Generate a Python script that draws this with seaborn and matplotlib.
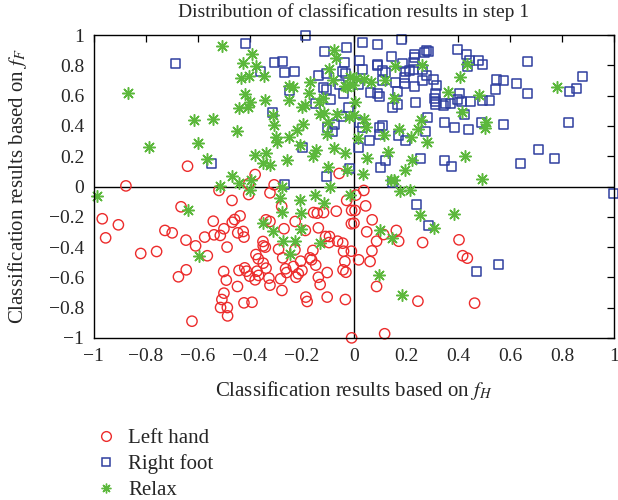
import numpy as np
import pandas as pd
import matplotlib
matplotlib.use("Agg")
import matplotlib.pyplot as plt
from matplotlib.lines import Line2D
import seaborn as sns

# Points (x = f_H, y = f_F)
left_x = [-0.64, -0.38, -0.057, -0.405, -0.307, -0.877,
          -0.519, -0.405, -0.323, -0.469, -0.278, -0.665, -0.968, -0.906, -0.955, -0.541,
          -0.468, -0.459, -0.438, -0.338, -0.323, -0.226, -0.155, -0.141, -0.117, -0.068,
          -0.028, -0.009, -0.01, -0.137, -0.187, -0.269, -0.727, -0.699, -0.646, -0.609,
          -0.574, -0.538, -0.514, -0.5, -0.447, -0.426, -0.423, -0.488, -0.35, -0.349,
          -0.341, -0.29, -0.274, -0.377, -0.368, -0.349, -0.338, -0.42, -0.442, -0.413,
          -0.401, -0.38, -0.373, -0.367, -0.327, -0.323, -0.282, -0.277, -0.263, -0.259,
          -0.233, -0.223, -0.214, -0.205, -0.2, -0.227, -0.169, -0.163, -0.158, -0.147,
          -0.137, -0.13, -0.103, -0.103, -0.185, -0.18, -0.109, -0.094, -0.096, -0.063,
          -0.043, -0.04, -0.01, -0.035, -0.042, -0.031, -0.033, -0.009, -0.501, -0.491,
          -0.448, -0.5, -0.508, -0.513, -0.487, -0.486, -0.423, -0.392, -0.623, -0.675,
          -0.645, -0.82, -0.759, -0.564,
          0.038, 0.007, 0.045, 0.004, 0.07, 0.0, 0.049, 0.114, 0.163, 0.172, 0.087, 0.264,
          0.404, 0.418, 0.436, 0.069, 0.018, 0.062, 0.087, 0.246, 0.464, 0.118]
left_y = [0.134, 0.079, 0.086, 0.018, 0.011, 0.004,
          -0.026, -0.053, -0.042, -0.092, -0.132, -0.134, -0.213, -0.253, -0.339, -0.229,
          -0.236, -0.218, -0.194, -0.22, -0.231, -0.231, -0.172, -0.176, -0.172, -0.163,
          -0.092, -0.158, -0.246, -0.273, -0.29, -0.279, -0.29, -0.306, -0.354, -0.392,
          -0.334, -0.319, -0.323, -0.279, -0.306, -0.297, -0.334, -0.4, -0.363, -0.392,
          -0.4, -0.414, -0.471, -0.449, -0.477, -0.506, -0.539, -0.537, -0.554, -0.559,
          -0.592, -0.616, -0.559, -0.587, -0.605, -0.651, -0.609, -0.686, -0.543, -0.568,
          -0.528, -0.599, -0.576, -0.493, -0.554, -0.418, -0.471, -0.484, -0.422, -0.519,
          -0.599, -0.647, -0.568, -0.73, -0.73, -0.759, -0.33, -0.33, -0.37, -0.361,
          -0.374, -0.427, -0.427, -0.495, -0.55, -0.566, -0.746, -0.999, -0.561, -0.618,
          -0.66, -0.704, -0.746, -0.799, -0.799, -0.854, -0.768, -0.764, -0.889, -0.596,
          -0.55, -0.442, -0.429, -0.457,
          -0.026, -0.057, -0.128, -0.158, -0.22, -0.242, -0.299, -0.317, -0.29, -0.361,
          -0.361, -0.37, -0.352, -0.457, -0.473, -0.425, -0.484, -0.495, -0.66, -0.757,
          -0.77, -0.972]

foot_x = [-0.185, -0.418, -0.687, -0.114, -0.028, -0.304, -0.276, -0.359, -0.267, -0.228,
          -0.136, -0.105, -0.037, -0.043, -0.031, -0.057, -0.118, -0.105, -0.246, -0.04,
          -0.146, -0.09, -0.02, -0.314, -0.047, -0.076, -0.101, -0.082, -0.197, -0.549,
          -0.018, -0.106, -0.267,
          0.032, 0.092, 0.182, 0.278, 0.287, 0.272, 0.4, 0.433, 0.146, 0.233, 0.233, 0.446,
          0.478, 0.495, 0.436, 0.667, 0.023, 0.09, 0.092, 0.185, 0.228, 0.031, 0.11, 0.122,
          0.2, 0.215, 0.228, 0.263, 0.279, 0.305, 0.263, 0.193, 0.158, 0.108, 0.195, 0.318,
          0.232, 0.017, 0.878, 0.549, 0.576, 0.627, 0.546, 0.855, 0.83, 0.669, 0.168, 0.065,
          0.092, 0.097, 0.314, 0.405, 0.308, 0.312, 0.313, 0.353, 0.346, 0.372, 0.397,
          0.413, 0.449, 0.495, 0.523, 0.236, 0.168, 0.149, 0.424, 0.282, 0.349, 0.387,
          0.442, 0.491, 0.574, 0.824, 0.02, 0.033, 0.1, 0.108, 0.1, 0.276, 0.172, 0.197,
          0.06, 0.018, 0.709, 0.773, 0.641, 0.123, 0.103, 0.256, 0.349, 0.377, 0.149,
          0.24, 0.285, 0.473, 0.554, 1.0]
foot_y = [0.999, 0.944, 0.812, 0.893, 0.915, 0.818, 0.827, 0.757, 0.752, 0.759,
          0.73, 0.744, 0.818, 0.759, 0.748, 0.675, 0.651, 0.642, 0.634, 0.612,
          0.55, 0.572, 0.523, 0.49, 0.464, 0.409, 0.391, 0.365, 0.259, 0.152,
          0.119, 0.066, 0.013,
          0.948, 0.937, 0.97, 0.898, 0.89, 0.886, 0.904, 0.871, 0.86, 0.871, 0.85, 0.834,
          0.832, 0.807, 0.794, 0.827, 0.834, 0.803, 0.796, 0.81, 0.818, 0.77, 0.766, 0.752,
          0.757, 0.764, 0.77, 0.772, 0.735, 0.708, 0.7, 0.717, 0.688, 0.7, 0.682, 0.669,
          0.66, 0.673, 0.728, 0.704, 0.7, 0.682, 0.642, 0.645, 0.627, 0.612, 0.629, 0.622,
          0.612, 0.594, 0.616, 0.616, 0.583, 0.561, 0.541, 0.55, 0.535, 0.55, 0.574,
          0.561, 0.563, 0.568, 0.57, 0.552, 0.539, 0.519, 0.475, 0.455, 0.422, 0.387,
          0.378, 0.422, 0.409, 0.422, 0.422, 0.391, 0.391, 0.403, 0.343, 0.36, 0.334, 0.306,
          0.301, 0.257, 0.242, 0.185, 0.152, 0.172, 0.128, 0.185, 0.172, 0.132, 0.028,
          -0.117, -0.255, -0.561, -0.515, -0.048]

relax_x = [-0.506, -0.391, -0.426, -0.377, -0.433, -0.404, -0.346, -0.076, -0.07, -0.096,
           -0.081, -0.168, -0.249, -0.233, -0.172, -0.034, -0.015, -0.87, -0.418, -0.343,
           -0.4, -0.408, -0.443, -0.251, -0.2, -0.19, -0.136, -0.119, -0.131, -0.114,
           -0.067, -0.018, -0.028, -0.313, -0.614, -0.542, -0.309, -0.195, -0.22, -0.099,
           -0.105, -0.449, -0.3, -0.251, -0.296, -0.6, -0.788, -0.208, -0.145, -0.158,
           -0.078, -0.036, -0.38, -0.338, -0.565, -0.351, -0.323, -0.259, -0.101, -0.028,
           -0.469, -0.443, -0.396, -0.515,
           0.156, 0.262, 0.433, 0.408, 0.008, 0.04, 0.064, 0.118, -0.003, 0.782, 0.36,
           0.482, 0.155, 0.004, 0.415, 0.0, 0.04, 0.045, 0.256, 0.174, 0.245, 0.218, 0.114,
           0.279, 0.508, 0.503, 0.014, 0.132, 0.05, 0.222, 0.426, 0.197, 0.035, 0.494,
           0.141, 0.155,
           -0.99, -0.4, -0.286, -0.276, -0.638, -0.277, -0.209, -0.203, -0.149, -0.114,
           -0.092, -0.015, -0.349, -0.313, -0.205, -0.272, -0.228, -0.246, -0.132, -0.595,
           0.178, 0.217, 0.254, 0.383, 0.308, 0.099, 0.145, 0.096, 0.186]
relax_y = [0.93, 0.876, 0.812, 0.794, 0.715, 0.728, 0.73, 0.898, 0.847, 0.777,
           0.706, 0.688, 0.662, 0.66, 0.618, 0.665, 0.722, 0.614, 0.612, 0.57,
           0.556, 0.528, 0.519, 0.574, 0.528, 0.541, 0.556, 0.585, 0.48, 0.486,
           0.48, 0.462, 0.655, 0.472, 0.436, 0.444, 0.405, 0.414, 0.37, 0.429,
           0.348, 0.365, 0.33, 0.33, 0.297, 0.288, 0.262, 0.277, 0.244, 0.2,
           0.251, 0.224, 0.205, 0.218, 0.183, 0.152, 0.145, 0.172, 0.132, 0.11,
           0.071, 0.022, 0.04, 0.004,
           0.797, 0.801, 0.807, 0.722, 0.715, 0.711, 0.693, 0.7, 0.667, 0.66, 0.622,
           0.601, 0.581, 0.561, 0.495, 0.475, 0.447, 0.391, 0.442, 0.378, 0.378, 0.33, 0.339,
           0.295, 0.429, 0.387, 0.321, 0.226, 0.189, 0.172, 0.2, 0.11, 0.084, 0.051,
           0.042, 0.042,
           -0.06, -0.026, -0.079, -0.004, -0.154, -0.167, -0.092, -0.176, -0.053, -0.11,
           0.0, -0.057, -0.24, -0.297, -0.279, -0.361, -0.361, -0.447, -0.37, -0.46,
           -0.028, -0.024, -0.189, -0.18, -0.273, -0.284, -0.339, -0.583, -0.719]

classes = ["Left hand", "Right foot", "Relax"]
red = "#ec2b2b"
blue = "#2f3f9f"
green = "#5cb83c"

sns.set_style("white")
plt.rcParams["font.family"] = ["Liberation Serif", "DejaVu Serif"]
plt.rcParams["mathtext.fontset"] = "stix"

fig = plt.figure(figsize=(6.18, 5.0), dpi=100)
ax = fig.add_axes([0.152, 0.324, 0.8415, 0.606])

left = pd.DataFrame({"x": left_x, "y": left_y})
foot = pd.DataFrame({"x": foot_x, "y": foot_y})
relax = pd.DataFrame({"x": relax_x, "y": relax_y})

sns.scatterplot(data=left, x="x", y="y", ax=ax, marker="o", s=55,
                facecolor="none", edgecolor=red, linewidth=1.0, clip_on=False)
sns.scatterplot(data=foot, x="x", y="y", ax=ax, marker="s", s=42,
                facecolor="none", edgecolor=blue, linewidth=1.1, clip_on=False)
sns.scatterplot(data=relax, x="x", y="y", ax=ax, marker=(8, 2, 0), s=70,
                color=green, linewidth=1.1, clip_on=False)

# cross lines through the origin
ax.axhline(0, color="black", lw=1.0, zorder=0.5)
ax.axvline(0, color="black", lw=1.0, zorder=0.5)

ax.set_xlim(-1, 1)
ax.set_ylim(-1, 1)
ax.set_xticks(np.arange(-1, 1.01, 0.2))
ax.set_yticks(np.arange(-1, 1.01, 0.2))
fmt = lambda v: "0" if abs(v) < 1e-9 else ("%g" % round(v, 1)).replace("-", "\u2212")
ax.set_xticklabels([fmt(v) for v in ax.get_xticks()])
ax.set_yticklabels([fmt(v) for v in ax.get_yticks()])
ax.tick_params(direction="in", length=5, width=0.9, top=True, right=True,
               labelsize=14, pad=7, color="black")
for sp in ax.spines.values():
    sp.set_color("black")
    sp.set_linewidth(1.0)

ax.set_title("Distribution of classification results in step 1", fontsize=14, pad=13)
ax.set_xlabel("Classification results based on $f_H$", fontsize=15, labelpad=10)
ax.set_ylabel("Classification results based on $f_F$", fontsize=15, labelpad=14)

handles = [
    Line2D([], [], ls="none", marker="o", ms=7, mfc="none", mec=red, mew=1.0),
    Line2D([], [], ls="none", marker="s", ms=6, mfc="none", mec=blue, mew=1.1),
    Line2D([], [], ls="none", marker=(8, 2, 0), ms=7, color=green, mew=1.0),
]
fig.legend(handles, classes, loc="upper left", bbox_to_anchor=(0.138, 0.16),
           frameon=False, fontsize=15, handlelength=1.2, handletextpad=0.45,
           labelspacing=0.3, borderaxespad=0)

fig.savefig("out.png", dpi=100)
